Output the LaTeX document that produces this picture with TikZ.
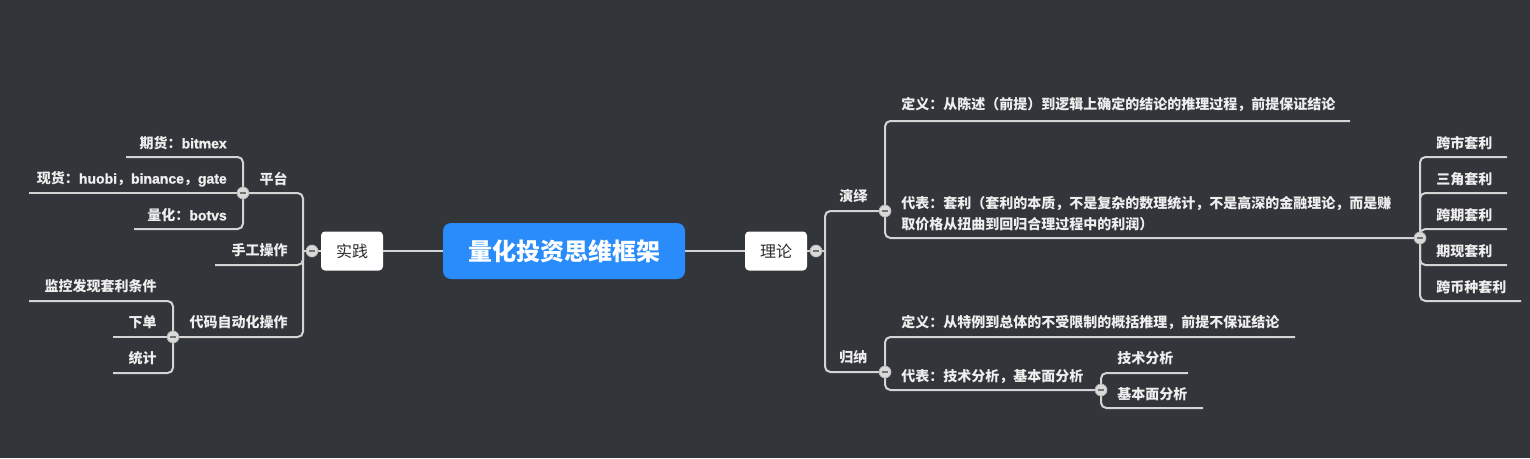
\documentclass[tikz,border=0pt]{standalone}
\usepackage{fontspec}
\setmainfont{Noto Sans CJK SC}
\newfontfamily\latfont{Liberation Sans}[FakeBold=1.2]
\newcommand{\lat}[1]{{\latfont #1}}
\pgfdeclarelayer{bg}
\pgfdeclarelayer{lines}
\pgfsetlayers{bg,lines,main}
\definecolor{bgc}{RGB}{50,53,58}
\definecolor{linec}{RGB}{212,212,212}
\definecolor{rootc}{RGB}{42,140,250}
\definecolor{txtc}{RGB}{238,238,238}
\definecolor{boxtxt}{RGB}{45,45,45}
\tikzset{
  conn/.style={draw=linec, line width=1.5pt, rounded corners=4pt},
  txt/.style={text=txtc, font=\bfseries\fontsize{10.5pt}{15.75pt}\selectfont, inner sep=0pt},
  subbox/.style={fill=white, rounded corners=3pt, minimum width=46.5pt, minimum height=29.25pt, inner sep=0pt, text=boxtxt, font=\fontsize{12pt}{14pt}\selectfont},
  rootbox/.style={fill=rootc, rounded corners=6pt, minimum width=181.5pt, minimum height=42pt, inner sep=0pt, text=white, font=\bfseries\fontsize{18pt}{20pt}\selectfont},
  coll/.style={circle, minimum size=9pt, inner sep=0pt, fill=white!85!black, draw=white!70!black, line width=0.5pt,
    path picture={\draw[line width=1.4pt, white!45!black] ([xshift=-2.3pt]path picture bounding box.center) -- ([xshift=2.3pt]path picture bounding box.center);}}
}
\begin{document}
\begin{tikzpicture}[x=0.75pt, y=-0.75pt]
\begin{pgfonlayer}{bg}
\fill[bgc] (0,0) rectangle (1530,458);
\end{pgfonlayer}
\useasboundingbox (0,0) rectangle (1530,458);

% main nodes
\node[rootbox] (root) at (564,251) {量化投资思维框架};
\node[subbox] (sj) at (352,251) {实践};
\node[subbox] (ll) at (776,251) {理论};

% collapse circles
\node[coll] (csj) at (312,251) {};
\node[coll] (cpt) at (243,193) {};
\node[coll] (cdm) at (173,337) {};
\node[coll] (cll) at (816,251) {};
\node[coll] (cyy) at (885,211) {};
\node[coll] (cgn) at (885,372) {};
\node[coll] (cdb) at (1420,238) {};
\node[coll] (cjs) at (1101,390) {};

% junctions and free ends
\coordinate (t1) at (303,251);
\coordinate (t2) at (825,251);
\coordinate (eqh) at (126,157);
\coordinate (exh) at (29,193);
\coordinate (elh) at (134,229);
\coordinate (esg) at (215,265);
\coordinate (ejk) at (29,301);
\coordinate (exd) at (113,337);
\coordinate (etj) at (113,373);
\coordinate (edy1) at (1350,121);
\coordinate (ek1) at (1507,157);
\coordinate (ek2) at (1507,193);
\coordinate (ek3) at (1507,229);
\coordinate (ek4) at (1507,265);
\coordinate (ek5) at (1521,301);
\coordinate (edy2) at (1295,337);
\coordinate (ejs1) at (1188,373);
\coordinate (ejs2) at (1203,408);

% connectors
\begin{pgfonlayer}{lines}
\draw[conn] (root.west) -- (sj.east);
\draw[conn] (root.east) -- (ll.west);
\draw[conn] (sj.west) -- (csj.center);
\draw[conn] (csj.center) -- (t1);
\draw[conn] (t1) |- (cpt.center);
\draw[conn] (t1) |- (esg);
\draw[conn] (t1) |- (cdm.center);
\draw[conn] (cpt.center) |- (eqh);
\draw[conn] (cpt.center) -- (exh);
\draw[conn] (cpt.center) |- (elh);
\draw[conn] (cdm.center) |- (ejk);
\draw[conn] (cdm.center) -- (exd);
\draw[conn] (cdm.center) |- (etj);

\draw[conn] (ll.east) -- (cll.center);
\draw[conn] (cll.center) -- (t2);
\draw[conn] (t2) |- (cyy.center);
\draw[conn] (t2) |- (cgn.center);
\draw[conn] (cyy.center) |- (edy1);
\draw[conn] (cyy.center) |- (cdb.center);
\draw[conn] (cdb.center) |- (ek1);
\draw[conn] (cdb.center) |- (ek2);
\draw[conn] (cdb.center) |- (ek3);
\draw[conn] (cdb.center) |- (ek4);
\draw[conn] (cdb.center) |- (ek5);
\draw[conn] (cgn.center) |- (edy2);
\draw[conn] (cgn.center) |- (cjs.center);
\draw[conn] (cjs.center) |- (ejs1);
\draw[conn] (cjs.center) |- (ejs2);
\end{pgfonlayer}

% left texts
\node[txt, anchor=east] (tqh) at (227,143) {期货：\lat{bitmex}};
\node[txt, anchor=east] (txh) at (227,179) {现货：\lat{huobi}，\lat{binance}，\lat{gate}};
\node[txt, anchor=east] (tlh) at (227,215) {量化：\lat{botvs}};
\node[txt, anchor=east] (tpt) at (288,179) {平台};
\node[txt, anchor=east] (tsg) at (288,250) {手工操作};
\node[txt, anchor=east] (tdm) at (288,322) {代码自动化操作};
\node[txt, anchor=east] (tjk) at (157,286) {监控发现套利条件};
\node[txt, anchor=east] (txd) at (157,322) {下单};
\node[txt, anchor=east] (ttj) at (157,358) {统计};

% right texts
\node[txt, anchor=west] (tyy) at (839,196) {演绎};
\node[txt, anchor=west] (tgn) at (839,357) {归纳};
\node[txt, anchor=west] (tdy1) at (901,105) {定义：从陈述（前提）到逻辑上确定的结论的推理过程，前提保证结论};
\node[txt, anchor=west, align=left] (tdb1) at (901,213.5) {代表：套利（套利的本质，不是复杂的数理统计，不是高深的金融理论，而是赚\\取价格从扭曲到回归合理过程中的利润）};
\node[txt, anchor=west] (tk1) at (1436,143) {跨市套利};
\node[txt, anchor=west] (tk2) at (1436,179) {三角套利};
\node[txt, anchor=west] (tk3) at (1436,215) {跨期套利};
\node[txt, anchor=west] (tk4) at (1436,251) {期现套利};
\node[txt, anchor=west] (tk5) at (1436,287) {跨币种套利};
\node[txt, anchor=west] (tdy2) at (901,323) {定义：从特例到总体的不受限制的概括推理，前提不保证结论};
\node[txt, anchor=west] (tdb2) at (901,377) {代表：技术分析，基本面分析};
\node[txt, anchor=west] (tjs1) at (1117,358) {技术分析};
\node[txt, anchor=west] (tjs2) at (1117,394) {基本面分析};
\end{tikzpicture}
\end{document}
